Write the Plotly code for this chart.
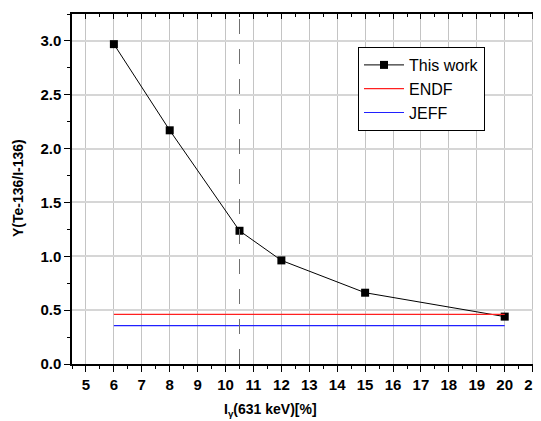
import plotly.graph_objects as go

x_work = [6, 8, 10.5, 12, 15, 20]
y_work = [2.97, 2.17, 1.237, 0.962, 0.662, 0.44]
x_ref = [6, 20]
y_endf = [0.461, 0.461]
y_jeff = [0.356, 0.356]
x_marker_line = 10.5

fig = go.Figure()
fig.add_trace(go.Scatter(x=x_work, y=y_work, mode="lines+markers", name="This work",
                         line=dict(color="black", width=1),
                         marker=dict(symbol="square", size=8, color="black")))
fig.add_trace(go.Scatter(x=x_ref, y=y_endf, mode="lines", name="ENDF",
                         line=dict(color="#ff2020", width=1.2)))
fig.add_trace(go.Scatter(x=x_ref, y=y_jeff, mode="lines", name="JEFF",
                         line=dict(color="#2020ff", width=1.2)))
# dummy trace for top axis
fig.add_trace(go.Scatter(x=[10], y=[1], xaxis="x2", mode="markers",
                         marker=dict(opacity=0), showlegend=False, hoverinfo="skip"))

fig.add_shape(type="line", x0=x_marker_line, x1=x_marker_line, y0=0, y1=1,
              xref="x", yref="y domain", line=dict(color="#707070", width=1, dash="longdash"))

tickfont = dict(family="Liberation Sans, Arial", size=15, color="black", weight="bold")
titlefont = dict(family="Liberation Sans, Arial", size=14, color="black", weight="bold")

# page has an 8px body margin; figure occupies page x 8..541, y 8..421
W, H = 533, 413
L, T, B = 64, 6, 57
PW, PH = W - L, H - T - B

fig.update_layout(
    width=W, height=H,
    margin=dict(l=L, r=0, t=T, b=B),
    plot_bgcolor="white", paper_bgcolor="white",
    xaxis=dict(range=[4.5, 21.3], tick0=5, dtick=1, showgrid=True, gridcolor="#c4c4c4", gridwidth=1,
               showline=True, linecolor="black", linewidth=1.5, ticks="outside", ticklen=6,
               tickcolor="black", tickfont=tickfont, zeroline=False, automargin=False,
               minor=dict(dtick=0.5, ticks="outside", ticklen=3, tickcolor="black", showgrid=False),
               title=dict(text="")),
    xaxis2=dict(range=[4.5, 21.3], overlaying="x", side="top", tick0=5, dtick=1,
                showgrid=False, showline=True, linecolor="black", linewidth=1.5, automargin=False,
                ticks="inside", ticklen=5, tickcolor="black", showticklabels=False, zeroline=False,
                minor=dict(dtick=0.5, ticks="inside", ticklen=3, tickcolor="black", showgrid=False)),
    yaxis=dict(range=[0, 3.25], dtick=0.5, tickformat=".1f", showgrid=True, gridcolor="#d6d6d6", gridwidth=1.5,
               showline=True, linecolor="black", linewidth=1.5, ticks="outside", ticklen=6,
               tickcolor="black", tickfont=tickfont, zeroline=False, automargin=False,
               minor=dict(dtick=0.25, ticks="outside", ticklen=3, tickcolor="black", showgrid=False),
               title=dict(text="")),
    legend=dict(x=(358 - 72) / PW, y=1 - (47 - 14) / PH, xanchor="left", yanchor="top", bgcolor="white",
                bordercolor="black", borderwidth=1,
                font=dict(family="Liberation Sans, Arial", size=16, color="black"),
                tracegroupgap=0, itemwidth=40),
    showlegend=True,
    annotations=[
        dict(text="I<sub>γ</sub>(631 keV)[%]", xref="paper", yref="paper", x=(270 - 72) / PW,
             y=-(410 - 364) / PH,
             xanchor="center", yanchor="middle", showarrow=False, font=titlefont),
        dict(text="Y(Te-136/I-136)", xref="paper", yref="paper", x=-(72 - 18) / PW, y=(364 - 188) / PH,
             xanchor="center", yanchor="middle", showarrow=False, textangle=-90, font=titlefont),
    ],
)

fig.write_html("out.html")
